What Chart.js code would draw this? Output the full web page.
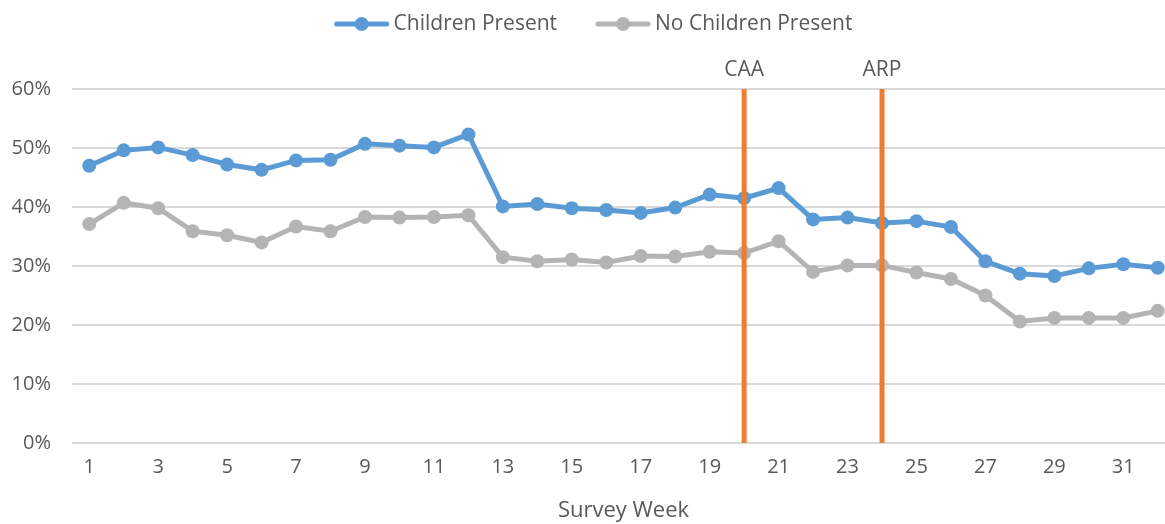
<!DOCTYPE html>
<html>
<head>
<meta charset="utf-8">
<script src="https://cdn.jsdelivr.net/npm/chart.js@4.4.1/dist/chart.umd.min.js"></script>
<style>
  html, body { margin: 0; padding: 0; background: #fff; overflow: hidden; }
</style>
</head>
<body>
<canvas id="chart" width="1182" height="524"></canvas>
<script>
// data
const weeks = ["1","2","3","4","5","6","7","8","9","10","11","12","13","14","15","16",
               "17","18","19","20","21","22","23","24","25","26","27","28","29","30","31","32"];
const childrenPresent = [0.470, 0.496, 0.501, 0.488, 0.472, 0.463, 0.479, 0.480, 0.507, 0.504, 0.501, 0.523,
                         0.401, 0.405, 0.398, 0.395, 0.390, 0.399, 0.421, 0.415, 0.432, 0.379, 0.382, 0.373,
                         0.376, 0.366, 0.308, 0.287, 0.283, 0.296, 0.303, 0.297];
const noChildrenPresent = [0.371, 0.407, 0.398, 0.359, 0.352, 0.340, 0.367, 0.359, 0.383, 0.382, 0.383, 0.386,
                           0.315, 0.308, 0.311, 0.306, 0.317, 0.316, 0.324, 0.322, 0.342, 0.290, 0.301, 0.301,
                           0.289, 0.278, 0.250, 0.206, 0.212, 0.212, 0.212, 0.224];
const markerWeeks = ["20", "24"];
const markerLabels = ["CAA", "ARP"];
const yTicks = [0, 0.1, 0.2, 0.3, 0.4, 0.5, 0.6];

const BLUE = "#5B9BD5";
const GRAY = "#B4B4B4";
const ORANGE = "#ED7D31";
const TEXT = "#595959";
const FONT = "'Open Sans', sans-serif";

const markerDatasets = markerWeeks.map((w, i) => ({
    label: markerLabels[i],
    data: [{ x: w, y: yTicks[0] }, { x: w, y: yTicks[yTicks.length - 1] }],
    borderColor: ORANGE,
    borderWidth: 5,
    pointRadius: 0,
    pointHoverRadius: 0,
    order: 0,
    isMarker: true
}));

// CAA / ARP captions above the orange lines
const markerText = {
    id: "markerText",
    afterDatasetsDraw(chart) {
        const ctx = chart.ctx;
        const x = chart.scales.x;
        ctx.save();
        ctx.font = "21px " + FONT;
        ctx.fillStyle = TEXT;
        ctx.textAlign = "center";
        ctx.textBaseline = "middle";
        markerWeeks.forEach((w, i) => {
            ctx.fillText(markerLabels[i], x.getPixelForValue(weeks.indexOf(w)), chart.chartArea.top - 19);
        });
        ctx.restore();
    }
};

// legend drawn by hand: short line with a dot, then the label
const lineLegend = {
    id: "lineLegend",
    afterDraw(chart) {
        const ctx = chart.ctx;
        const items = chart.data.datasets.filter(d => !d.isMarker);
        const symW = 56, textGap = 4, itemGap = 38, cy = 24;
        ctx.save();
        ctx.font = "21px " + FONT;
        const widths = items.map(d => symW + textGap + ctx.measureText(d.label).width);
        const total = widths.reduce((a, b) => a + b, 0) + itemGap * (items.length - 1);
        let x = 593 - total / 2;
        items.forEach((d, i) => {
            ctx.strokeStyle = d.borderColor;
            ctx.lineWidth = 5;
            ctx.lineCap = "round";
            ctx.beginPath();
            ctx.moveTo(x + 3, cy);
            ctx.lineTo(x + symW - 3, cy);
            ctx.stroke();
            ctx.fillStyle = d.borderColor;
            ctx.beginPath();
            ctx.arc(x + symW / 2, cy, 7, 0, Math.PI * 2);
            ctx.fill();
            ctx.fillStyle = TEXT;
            ctx.textAlign = "left";
            ctx.textBaseline = "middle";
            ctx.fillText(d.label, x + symW + textGap, cy);
            x += widths[i] + itemGap;
        });
        ctx.restore();
    }
};

new Chart(document.getElementById("chart"), {
    type: "line",
    data: {
        labels: weeks,
        datasets: [
            {
                label: "Children Present",
                data: childrenPresent,
                borderColor: BLUE,
                backgroundColor: BLUE,
                borderWidth: 5,
                pointRadius: 7,
                pointBorderWidth: 0,
                pointBackgroundColor: BLUE,
                order: 1
            },
            {
                label: "No Children Present",
                data: noChildrenPresent,
                borderColor: GRAY,
                backgroundColor: GRAY,
                borderWidth: 5,
                pointRadius: 7,
                pointBorderWidth: 0,
                pointBackgroundColor: GRAY,
                order: 2
            },
            ...markerDatasets
        ]
    },
    options: {
        responsive: false,
        animation: false,
        layout: { padding: { left: 0, right: 0, top: 89, bottom: 0 } },
        plugins: {
            tooltip: { enabled: false },
            legend: { display: false }
        },
        scales: {
            x: {
                type: "category",
                offset: true,
                grid: { display: false, drawTicks: false },
                border: { display: false },
                ticks: {
                    autoSkip: false,
                    maxRotation: 0,
                    padding: 12,
                    color: TEXT,
                    font: { family: FONT, size: 20 },
                    callback: (v, i) => (i % 2 === 0 ? weeks[i] : "")
                },
                title: {
                    display: true,
                    text: "Survey Week",
                    color: TEXT,
                    font: { family: FONT, size: 22 },
                    padding: { top: 4, bottom: 0 }
                },
                afterFit: (s) => { s.height = 81; }
            },
            y: {
                min: yTicks[0],
                max: yTicks[yTicks.length - 1],
                grid: { color: "#D9D9D9", lineWidth: 2, drawTicks: false },
                border: { display: false },
                afterBuildTicks: (s) => { s.ticks = yTicks.map(v => ({ value: v })); },
                ticks: {
                    padding: 21,
                    color: TEXT,
                    font: { family: FONT, size: 20 },
                    callback: (v) => Math.round(v * 100) + "%"
                },
                afterFit: (s) => { s.width = 72; }
            }
        }
    },
    plugins: [markerText, lineLegend]
});
</script>
</body>
</html>
